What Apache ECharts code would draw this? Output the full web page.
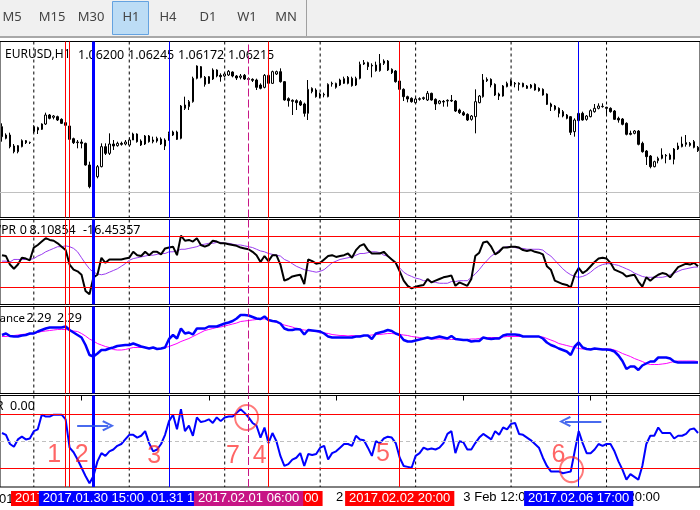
<!DOCTYPE html>
<html><head><meta charset="utf-8">
<script src="https://cdn.jsdelivr.net/npm/echarts@6/dist/echarts.min.js"></script>
<style>html,body{margin:0;padding:0;background:#fff}#c{width:700px;height:510px}</style>
</head><body><div id="c"></div><script>
// ---------- DATA ----------
const days = ['2017.01.27','2017.01.30','2017.01.31','2017.02.01','2017.02.02','2017.02.03','2017.02.06','2017.02.07'];
const firstHour = 16;
const categories = [];
days.forEach((d, i) => { for (let h = (i === 0 ? firstHour : 0); h < 24; h++) categories.push(d + ' ' + String(h).padStart(2, '0') + ':00'); });

const opens = [
1.072,1.07025,1.07075,1.0691,1.06825,1.069,1.0699,1.0696,1.07125,1.07185,
1.0716,1.0724,1.07375,1.0734,1.0735,1.0731,1.0726,1.0721,1.0702,1.0696,
1.0697,1.0695,1.06625,1.0631,1.0645,1.066,1.069,1.068,1.0694,1.06915,
1.0695,1.0694,1.06925,1.07,1.0709,1.06985,1.0694,1.0706,1.06975,1.06985,
1.07015,1.07,1.07,1.07075,1.0712,1.07025,1.07475,1.075,1.07575,1.07925,
1.081,1.0794,1.0785,1.07915,1.0805,1.0797,1.0796,1.07975,1.0802,1.0796,
1.0794,1.0797,1.0792,1.0791,1.079,1.07825,1.0779,1.0785,1.0785,1.0799,
1.08025,1.07875,1.0762,1.07595,1.0759,1.07575,1.0754,1.074,1.07725,1.0775,
1.0769,1.07675,1.0765,1.0784,1.0779,1.07825,1.0785,1.0794,1.07925,1.07825,
1.07925,1.0814,1.0816,1.0812,1.08125,1.0804,1.0815,1.08185,1.0806,1.08035,
1.07885,1.0776,1.0765,1.07625,1.0756,1.0761,1.0762,1.076,1.077,1.0761,
1.0755,1.0758,1.07585,1.07595,1.07585,1.0745,1.0741,1.07385,1.0731,1.0735,
1.0756,1.0765,1.0791,1.0791,1.07835,1.0766,1.0766,1.078,1.0789,1.0785,
1.0785,1.0785,1.0781,1.07785,1.07835,1.07775,1.0776,1.0769,1.0754,1.0751,
1.07475,1.07425,1.07375,1.0735,1.07125,1.0729,1.074,1.0731,1.0735,1.07425,
1.07475,1.075,1.0749,1.07475,1.07435,1.07325,1.07315,1.0725,1.071,1.071,
1.07135,1.0695,1.06835,1.0676,1.066,1.0669,1.06725,1.0677,1.0671,1.0671,
1.06865,1.069,1.0696,1.0695,1.06975,1.0689];
const closes = [
1.0705,1.07075,1.069,1.06825,1.06915,1.0699,1.0696,1.06965,1.072,1.0715,
1.0724,1.07375,1.07325,1.0736,1.073,1.0725,1.0722,1.0701,1.0696,1.0697,
1.0695,1.06625,1.063,1.0645,1.066,1.069,1.068,1.0694,1.0691,1.0695,
1.06935,1.0697,1.07,1.0709,1.06975,1.06925,1.0706,1.06975,1.07,1.07025,
1.0694,1.0691,1.071,1.0712,1.0701,1.0751,1.07525,1.07575,1.07925,1.0811,
1.0794,1.07835,1.0795,1.0805,1.0796,1.0795,1.0799,1.0803,1.0796,1.0793,
1.0796,1.07915,1.0791,1.07895,1.0779,1.07775,1.0797,1.0797,1.08025,1.08025,
1.07875,1.076,1.0759,1.0758,1.0756,1.07525,1.074,1.0776,1.07775,1.0765,
1.0766,1.07685,1.07835,1.0785,1.0785,1.079,1.0792,1.0785,1.07815,1.07925,
1.08135,1.0816,1.081,1.0811,1.0804,1.0815,1.08185,1.0805,1.0801,1.07875,
1.0776,1.0765,1.07615,1.07575,1.07615,1.0762,1.07635,1.077,1.076,1.0754,
1.07585,1.0757,1.07595,1.07585,1.07435,1.0741,1.07375,1.073,1.0736,1.07575,
1.0766,1.079,1.0789,1.07825,1.07675,1.0769,1.0781,1.0785,1.07825,1.0784,
1.07835,1.078,1.07775,1.07825,1.0775,1.0774,1.07675,1.07535,1.075,1.0746,
1.074,1.0736,1.07325,1.07115,1.073,1.074,1.073,1.0736,1.0744,1.07475,
1.0751,1.07505,1.07475,1.07425,1.0731,1.073,1.07235,1.07085,1.07085,1.07135,
1.06935,1.06825,1.0675,1.066,1.06675,1.06725,1.06775,1.0676,1.06775,1.06865,
1.0691,1.0694,1.06935,1.0692,1.0689,1.0684];
const lows = [
1.06975,1.0701,1.06875,1.068,1.068,1.0689,1.0694,1.0694,1.071,1.0709,
1.0715,1.07225,1.0731,1.0731,1.07285,1.0724,1.0721,1.07,1.0694,1.06875,
1.06875,1.06615,1.06275,1.0629,1.06425,1.0659,1.06775,1.06775,1.0685,1.069,
1.06915,1.0692,1.069,1.07,1.0696,1.0691,1.06925,1.0696,1.0695,1.0696,
1.06925,1.0685,1.0699,1.0706,1.07,1.0701,1.0745,1.0745,1.0756,1.0791,
1.07925,1.078,1.0784,1.079,1.0794,1.07875,1.0794,1.0796,1.0794,1.079,
1.0791,1.079,1.0789,1.0787,1.0775,1.0776,1.07775,1.0784,1.0784,1.07975,
1.0786,1.0759,1.075,1.07375,1.0745,1.0751,1.0735,1.073,1.077,1.07635,
1.07625,1.0764,1.0764,1.078,1.0777,1.0781,1.0784,1.07835,1.078,1.0781,
1.0791,1.08125,1.0805,1.0794,1.08025,1.08025,1.08125,1.08035,1.0799,1.0786,
1.0775,1.07585,1.07565,1.0756,1.0755,1.0759,1.076,1.07585,1.0759,1.0745,
1.07535,1.075,1.075,1.0757,1.0742,1.0739,1.0736,1.07285,1.0729,1.071,
1.0755,1.07635,1.0787,1.0779,1.0766,1.076,1.0765,1.0779,1.0781,1.0779,
1.0774,1.0779,1.07765,1.0777,1.0774,1.07725,1.07665,1.07525,1.07435,1.0744,
1.0734,1.0734,1.0731,1.07075,1.0705,1.07275,1.0729,1.0729,1.0734,1.0741,
1.0746,1.07485,1.07375,1.0741,1.073,1.0726,1.0722,1.0707,1.0707,1.07085,
1.0692,1.0681,1.06625,1.06575,1.0659,1.0665,1.0671,1.0665,1.067,1.06635,
1.0685,1.0689,1.069,1.069,1.06875,1.0682];
const highs = [
1.0725,1.071,1.0711,1.0694,1.06925,1.0701,1.07,1.06975,1.0722,1.072,
1.0725,1.0741,1.0739,1.07375,1.07365,1.07325,1.07275,1.07225,1.07035,1.07,
1.0701,1.0696,1.06675,1.06475,1.06625,1.0695,1.0695,1.071,1.07,1.06975,
1.06975,1.07,1.0704,1.0711,1.071,1.0701,1.07075,1.07075,1.0705,1.0705,
1.0704,1.07025,1.07125,1.0714,1.0714,1.07525,1.0765,1.076,1.0795,1.0812,
1.0811,1.0796,1.0796,1.08075,1.0806,1.08,1.0801,1.0805,1.0803,1.07975,
1.0799,1.0799,1.0794,1.07925,1.0792,1.0785,1.0799,1.08,1.0804,1.0804,
1.08075,1.07885,1.0764,1.0761,1.0761,1.076,1.0756,1.079,1.0779,1.07775,
1.0771,1.0771,1.0785,1.07875,1.0786,1.0792,1.0795,1.0796,1.0795,1.0795,
1.08175,1.082,1.08175,1.0815,1.08175,1.0829,1.0821,1.082,1.08075,1.0805,
1.079,1.07775,1.07665,1.0764,1.07635,1.0764,1.0765,1.07735,1.0771,1.07625,
1.076,1.076,1.0761,1.07675,1.076,1.0747,1.07435,1.074,1.07375,1.0776,
1.07675,1.0799,1.0794,1.07925,1.0785,1.0771,1.07825,1.07875,1.0791,1.0787,
1.07865,1.0786,1.07825,1.0784,1.0785,1.0779,1.07775,1.077,1.0756,1.07525,
1.0749,1.0745,1.0739,1.0736,1.07325,1.07425,1.07425,1.07375,1.0746,1.0754,
1.0755,1.0755,1.075,1.0749,1.0745,1.0735,1.0733,1.07265,1.0714,1.0715,
1.0715,1.06975,1.0685,1.06775,1.0669,1.0675,1.06875,1.0679,1.068,1.0688,
1.0696,1.0705,1.07075,1.0697,1.07,1.0691];
const bidPrice = 1.06215;

const wpr = [
-42,-43,-53,-58,-53,-45,-46,-48,-33,-30,
-26,-22,-24,-25,-28,-32,-36,-53,-59,-61,
-65,-84,-88,-68,-65,-45,-51,-47,-47,-47,
-47,-46,-45,-38,-42,-43,-38,-42,-38,-38,
-41,-34,-33,-32,-42,-19,-25,-24,-26,-22,
-30,-32,-30,-25,-26,-28,-28,-29,-30,-31,
-33,-34,-35,-38,-42,-50,-43,-49,-42,-42,
-53,-72,-70,-67,-66,-65,-76,-47,-49,-52,
-51,-47,-43,-42,-44,-43,-42,-40,-45,-36,
-31,-29,-36,-40,-40,-40,-38,-43,-47,-51,
-61,-72,-78,-81,-79,-78,-77,-70,-74,-72,
-70,-68,-67,-66,-78,-74,-76,-78,-70,-43,
-39,-27,-26,-32,-41,-38,-33,-33,-32,-32,
-33,-36,-37,-36,-38,-39,-41,-55,-59,-72,
-74,-76,-77,-80,-65,-57,-63,-60,-55,-50,
-46,-45,-46,-51,-59,-61,-63,-67,-66,-65,
-73,-79,-68,-72,-68,-65,-63,-64,-68,-62,
-56,-54,-52,-53,-51,-55];
const wprMa = [
-49,-49,-50,-47,-47,-47,-47,-47,-46,-43,
-41,-38,-36,-34,-32,-32,-31,-32,-34,-38,
-45,-52,-58,-62,-64,-65,-64,-62,-60,-58,
-55,-52,-48,-46,-45,-44,-43,-42,-42,-41,
-40,-40,-38,-38,-37,-35,-35,-34,-33,-32,
-30,-29,-28,-28,-27,-27,-28,-28,-29,-30,
-30,-31,-32,-33,-35,-37,-38,-40,-41,-42,
-43,-47,-49,-52,-55,-57,-59,-60,-61,-62,
-61,-59,-55,-51,-49,-47,-46,-45,-44,-42,
-40,-40,-39,-38,-38,-39,-42,-43,-47,-51,
-57,-62,-65,-67,-69,-70,-72,-72,-73,-74,
-75,-75,-75,-73,-73,-72,-72,-72,-68,-64,
-59,-53,-48,-43,-40,-36,-33,-32,-32,-33,
-34,-34,-35,-35,-35,-35,-36,-40,-43,-48,
-53,-58,-62,-65,-67,-68,-67,-65,-62,-58,
-55,-53,-52,-52,-53,-54,-56,-58,-60,-63,
-65,-67,-68,-68,-68,-68,-68,-67,-65,-63,
-61,-59,-58,-57,-56,-56];
const dev = [
2.66,2.69,2.64,2.63,2.63,2.65,2.66,2.69,2.69,2.73,
2.76,2.79,2.81,2.81,2.81,2.81,2.83,2.76,2.71,2.66,
2.61,2.46,2.26,2.23,2.29,2.36,2.36,2.39,2.41,2.44,
2.45,2.46,2.46,2.49,2.46,2.43,2.41,2.39,2.41,2.38,
2.39,2.41,2.58,2.66,2.59,2.79,2.69,2.71,2.67,2.79,
2.79,2.79,2.83,2.83,2.83,2.86,2.89,2.91,2.94,2.99,
3.06,3.06,3.05,3.02,2.99,2.98,3.03,2.96,2.94,2.93,
2.89,2.79,2.76,2.76,2.78,2.77,2.67,2.76,2.75,2.74,
2.73,2.69,2.63,2.61,2.61,2.61,2.61,2.61,2.61,2.63,
2.63,2.65,2.65,2.58,2.69,2.71,2.73,2.76,2.74,2.69,
2.66,2.56,2.53,2.53,2.55,2.57,2.59,2.61,2.59,2.61,
2.63,2.61,2.59,2.64,2.58,2.57,2.56,2.56,2.53,2.54,
2.54,2.61,2.59,2.58,2.59,2.59,2.65,2.67,2.67,2.67,
2.66,2.63,2.63,2.63,2.63,2.63,2.59,2.51,2.46,2.43,
2.39,2.36,2.33,2.26,2.43,2.51,2.41,2.38,2.37,2.39,
2.38,2.37,2.37,2.36,2.33,2.25,2.14,1.98,2.03,2.03,
1.96,2.05,2.09,2.13,2.13,2.21,2.21,2.21,2.19,2.13,
2.11,2.11,2.11,2.11,2.11,2.11];
const devMa = [
2.63,2.63,2.64,2.65,2.66,2.67,2.68,2.68,2.69,2.71,
2.73,2.74,2.75,2.76,2.77,2.77,2.77,2.76,2.74,2.73,
2.69,2.64,2.58,2.54,2.49,2.46,2.43,2.41,2.37,2.36,
2.36,2.37,2.39,2.41,2.41,2.41,2.41,2.39,2.39,2.39,
2.39,2.41,2.43,2.46,2.49,2.53,2.56,2.59,2.63,2.67,
2.71,2.75,2.77,2.79,2.81,2.82,2.84,2.86,2.88,2.90,
2.93,2.94,2.95,2.96,2.97,2.98,2.98,2.96,2.94,2.91,
2.89,2.86,2.84,2.82,2.79,2.77,2.76,2.75,2.74,2.73,
2.71,2.70,2.69,2.67,2.66,2.65,2.65,2.64,2.65,2.64,
2.65,2.65,2.65,2.66,2.67,2.67,2.68,2.69,2.69,2.68,
2.67,2.66,2.65,2.63,2.62,2.61,2.59,2.59,2.58,2.58,
2.58,2.58,2.58,2.57,2.57,2.57,2.57,2.57,2.58,2.58,
2.59,2.61,2.61,2.61,2.61,2.61,2.62,2.63,2.63,2.63,
2.63,2.63,2.63,2.63,2.63,2.63,2.62,2.59,2.56,2.53,
2.49,2.47,2.45,2.43,2.41,2.39,2.38,2.38,2.38,2.38,
2.38,2.38,2.38,2.38,2.36,2.33,2.29,2.26,2.23,2.19,
2.16,2.13,2.09,2.07,2.07,2.07,2.08,2.09,2.11,2.13,
2.14,2.14,2.14,2.14,2.14,2.13];
const wpr2 = [
-41,-43,-53,-56,-48,-45,-48,-47,-39,-37,
-21,-23,-23,-21,-21,-21,-26,-57,-62,-70,
-79,-88,-96,-88,-72,-63,-66,-61,-59,-55,
-53,-48,-43,-43,-46,-44,-39,-52,-61,-59,
-53,-43,-28,-21,-37,-15,-39,-33,-44,-24,
-29,-28,-26,-30,-24,-28,-24,-23,-23,-19,
-15,-19,-24,-30,-33,-46,-35,-52,-41,-50,
-66,-77,-75,-70,-68,-63,-77,-64,-65,-64,
-57,-55,-70,-63,-61,-57,-53,-53,-55,-44,
-48,-49,-57,-66,-50,-52,-47,-45,-46,-52,
-68,-77,-78,-79,-66,-63,-57,-59,-58,-59,
-57,-52,-42,-39,-63,-50,-51,-59,-59,-52,
-46,-42,-45,-48,-39,-43,-35,-37,-31,-30,
-42,-43,-46,-49,-53,-57,-68,-77,-83,-83,
-83,-85,-84,-83,-61,-39,-52,-63,-63,-59,
-53,-55,-53,-53,-61,-72,-81,-92,-86,-89,
-92,-77,-53,-44,-44,-35,-41,-41,-41,-47,
-44,-44,-42,-37,-36,-41];

const wprLevels = [-20, -50, -80];
const wpr2Levels = [-20, -80];
const wpr2Mid = [-50];

const sepTimes = ['2017.01.30 00:00','2017.01.31 00:00','2017.02.01 00:00','2017.02.02 00:00','2017.02.03 00:00','2017.02.06 00:00','2017.02.07 00:00'];
const vLineTimes = ['2017.01.30 09:00','2017.01.30 08:00','2017.01.31 10:00','2017.01.30 15:00','2017.02.01 11:00','2017.02.01 06:00','2017.02.02 20:00','2017.02.06 17:00'];

const tickIdx = [20, 52, 84, 116, 148];
const tickText = ['30 Jan 12:00','31 Jan 20:00','2 Feb 04:00','3 Feb 12:00','6 Feb 20:00'];

const headerPrice = ['EURUSD,H1', '1.06200', '1.06245', '1.06172', '1.06215'];
const headerWpr = ['WPR', '0', '8.10854', '-16.45357'];
const headerDev = ['ance', '2.29', '2.29'];
const headerWpr2 = ['R', '0.00'];
const periods = ['M5','M15','M30','H1','H4','D1','W1','MN'];

// annotations (data coordinates of the bottom panel)
const annoText = ['1','2','3','7','4','5','6'];
const annoX = [13.1, 20.05, 38.3, 58.05, 64.8, 95.8, 139.9];
const annoY = [-65.6, -65.6, -65.9, -65.9, -65.9, -64.3, -65.6];
const circleX = [61.5, 143.2];
const circleY = [-24, -81];
const arrowFrom = [[18.9, -33], [150.7, -28.4]];
const arrowTo = [[26.7, -33], [141.55, -28.4]];

// ---------- STYLE / LAYOUT ----------
const FONT = "'Liberation Sans', Arial, sans-serif";
const HFONT = "'Noto Sans', 'Liberation Sans', sans-serif";
const N = categories.length;
const GL = -1.5, GW = 4 * N;
const G = [
  {top: 41.5, height: 176},
  {top: 219.5, height: 85},
  {top: 306.5, height: 87},
  {top: 395.5, height: 91.5}
];
const yRanges = [[1.058375, 1.084775], [-100, 0], [1.49, 3.23], [-100, 0]];
const vLineStyle = [
  {color: '#ff0000', width: 1, type: 'solid'},
  {color: '#ff0000', width: 1, type: 'solid'},
  {color: '#0000ff', width: 1, type: 'solid'},
  {color: '#0000ff', width: 3, type: 'solid'},
  {color: '#ff0000', width: 1, type: 'solid'},
  {color: '#c71585', width: 1, type: [8, 3]},
  {color: '#ff0000', width: 1, type: 'solid'},
  {color: '#0000ff', width: 1, type: 'solid'}
];

const red = {color: '#ff0000', width: 1, type: 'solid'};
const levels = [
  [{yAxis: bidPrice, lineStyle: {color: '#c0c0c0', width: 1, type: 'solid'}}],
  wprLevels.map(v => ({yAxis: v, lineStyle: red})),
  [],
  wpr2Levels.map(v => ({yAxis: v, lineStyle: red})).concat(wpr2Mid.map(v => ({yAxis: v, lineStyle: {color: '#c0c0c0', width: 1, type: [4, 3]}})))
];

const grid = G.map(g => ({left: GL, width: GW, top: g.top, height: g.height, show: true, borderColor: '#000', borderWidth: 1, backgroundColor: '#fff', containLabel: false}));
const xAxis = G.map((g, i) => ({
  type: 'category', gridIndex: i, data: categories, boundaryGap: true,
  show: i === 3,
  axisLine: {show: false},
  axisTick: {show: i === 3, alignWithLabel: true, interval: (idx) => tickIdx.includes(idx), length: 5, lineStyle: {color: '#000', width: 1}},
  axisLabel: {show: i === 3, interval: (idx) => tickIdx.includes(idx), formatter: (v, idx) => tickText[tickIdx.indexOf(idx)] || '', align: 'left', margin: 4, color: '#000', fontSize: 13, fontFamily: FONT},
  splitLine: {show: false}
}));
xAxis.push({type: 'value', gridIndex: 3, min: -0.5, max: N - 0.5, show: false, splitLine: {show: false}});
const yAxis = G.map((g, i) => ({type: 'value', gridIndex: i, min: yRanges[i][0], max: yRanges[i][1], show: false, splitLine: {show: false}}));

const series = [];
// period separators (dashed, black) drawn through the category scale
G.forEach((g, i) => {
  series.push({
    type: 'custom', xAxisIndex: i, yAxisIndex: i, z: 1, silent: true, clip: false,
    data: sepTimes.map(t => [t, yRanges[i][0]]),
    encode: {x: 0, y: 1},
    renderItem: (params, api) => {
      const x = api.coord([api.value(0), yRanges[i][0]])[0];
      const cs = params.coordSys;
      return {type: 'line', shape: {x1: x, y1: cs.y, x2: x, y2: cs.y + cs.height},
        style: {stroke: '#000', lineWidth: 1, lineDash: [3, 3]}};
    }
  });
});
// horizontal levels
G.forEach((g, i) => {
  if (!levels[i].length) return;
  series.push({
    type: 'line', xAxisIndex: i, yAxisIndex: i, data: [], z: 1, silent: true,
    markLine: {silent: true, symbol: ['none', 'none'], animation: false, label: {show: false}, precision: 6,
      data: levels[i]}
  });
});
series.push({
  type: 'candlestick', xAxisIndex: 0, yAxisIndex: 0, z: 2, barWidth: 2,
  data: opens.map((o, i) => [o, closes[i], lows[i], highs[i]]),
  itemStyle: {color: '#ffffff', color0: '#000000', borderColor: '#000000', borderColor0: '#000000', borderColorDoji: '#000000', borderWidth: 1}
});
const lineS = (xi, data, color, width) => ({type: 'line', xAxisIndex: xi, yAxisIndex: xi, data, symbol: 'none', z: 2, silent: true, lineStyle: {color, width}, itemStyle: {color}});
series.push(lineS(1, wprMa, '#9a3cf0', 1));
series.push(lineS(1, wpr, '#000000', 2));
series.push(lineS(2, devMa, '#ff00ff', 1));
series.push(lineS(2, dev, '#0000ff', 2.5));
series.push(lineS(3, wpr2, '#0000ff', 2));

G.forEach((g, gi) => {
  series.push({
    type: 'line', xAxisIndex: gi, yAxisIndex: gi, data: [], z: 3, silent: true,
    markLine: {silent: true, symbol: ['none', 'none'], animation: false,
      data: vLineTimes.map((t, i) => {
        const s = vLineStyle[i];
        return {xAxis: t, lineStyle: {color: s.color, width: s.width, type: s.type},
          label: gi === 3 ? {show: true, position: 'start', formatter: t, color: '#fff', backgroundColor: s.color, padding: [1, 4, 1, 4], fontSize: 13, lineHeight: 13, fontFamily: FONT, distance: 4} : {show: false}};
      })}
  });
});

const annoColor = 'rgba(255,30,30,0.85)';
series.push({
  type: 'scatter', xAxisIndex: 4, yAxisIndex: 3, z: 4, silent: true, symbolSize: 1,
  itemStyle: {color: 'rgba(0,0,0,0)'},
  data: annoText.map((t, i) => [annoX[i], annoY[i], t]),
  label: {show: true, position: 'inside', formatter: p => p.value[2], color: annoColor, fontSize: 25, fontFamily: FONT}
});
series.push({
  type: 'scatter', xAxisIndex: 4, yAxisIndex: 3, z: 4, silent: true, symbol: 'circle', symbolSize: [23, 25],
  itemStyle: {color: 'rgba(0,0,0,0)', borderColor: 'rgba(255,45,45,0.8)', borderWidth: 2},
  data: circleX.map((x, i) => [x, circleY[i]]),
  markLine: {silent: true, animation: false, symbol: ['none', 'path://M0,9 L5,0 L10,9 L8.4,10 L5,3.4 L1.6,10 Z'], symbolSize: [11, 12], label: {show: false}, precision: 6,
    lineStyle: {color: 'rgba(40,80,235,0.85)', width: 2, type: 'solid'},
    data: arrowFrom.map((f, i) => [{coord: f}, {coord: arrowTo[i]}])}
});

// header / toolbar texts (non-data decoration)
const txt = (text, x, y, opt) => ({type: 'text', z: 5, style: Object.assign({text, x, y, fill: '#000', fontSize: 12, fontFamily: HFONT, align: 'left', verticalAlign: 'middle'}, opt || {})});
const periodCx = [12, 52, 91, 131, 168, 208, 247, 286];
const graphic = [
  {type: 'rect', z: 5, shape: {x: 0, y: 0, width: 700, height: 36}, style: {fill: '#f0f0f0'}},
  {type: 'rect', z: 5, shape: {x: 0, y: 36, width: 700, height: 2}, style: {fill: '#a8a8a8'}},
  {type: 'rect', z: 5, shape: {x: 306, y: 0, width: 1, height: 36}, style: {fill: '#a0a0a0'}},
  {type: 'rect', z: 5, shape: {x: 112.5, y: 1.5, width: 36, height: 33}, style: {fill: '#bcdcf5', stroke: '#64a2e0', lineWidth: 1}}
];
periods.forEach((p, i) => graphic.push(txt(p, periodCx[i], 17.5, {align: 'center', fill: '#444', fontSize: 13})));
const hpX = [5, 78, 128, 178, 228];
headerPrice.forEach((t, i) => graphic.push(txt(t, hpX[i], 55, i ? {fontSize: 12.5} : {})));
graphic.push(txt(headerWpr[0], 16, 230.5, {align: 'right'}));
graphic.push(txt(headerWpr[1], 27, 230.5, {align: 'right', fontSize: 12.5}));
graphic.push(txt(headerWpr[2], 29.5, 230.5, {fontSize: 12.5}));
graphic.push(txt(headerWpr[3], 83, 230.5, {fontSize: 12.5}));
graphic.push(txt(headerDev[0], -0.5, 318.5, {fontSize: 11.5}));
graphic.push(txt(headerDev[1], 26.5, 318.5, {fontSize: 12.5}));
graphic.push(txt(headerDev[2], 57, 318.5, {fontSize: 12.5}));
graphic.push(txt(headerWpr2[0], 3.5, 406.5, {align: 'right'}));
graphic.push(txt(headerWpr2[1], 10, 406.5, {fontSize: 12.5}));
graphic.push(txt('01', -1, 499.5, {fontSize: 13, fontFamily: FONT}));

const chart = echarts.init(document.getElementById('c'), null, {renderer: 'canvas'});
chart.setOption({
  animation: false,
  backgroundColor: '#ffffff',
  grid, xAxis, yAxis, series, graphic
});
</script></body></html>
